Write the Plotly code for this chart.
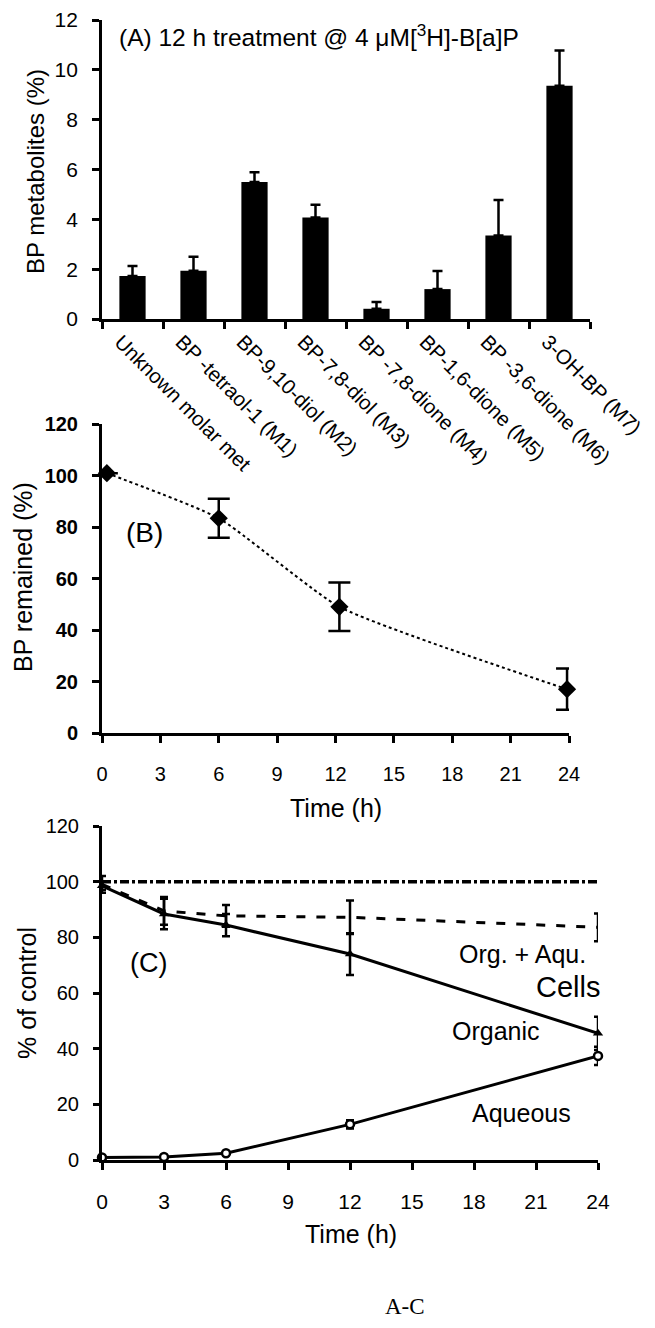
import plotly.graph_objects as go

# page body has an 8px default margin: place the paper inside it
OX, OY = 8, 8
W, H = 655 - 2 * OX, 1328 - 2 * OY

# ---------------- data ----------------
# Panel A
metabolites = ["Unknown molar met", "BP -tetraol-1 (M1)", "BP-9,10-diol (M2)", "BP-7,8-diol (M3)",
               "BP -7,8-dione (M4)", "BP-1,6-dione (M5)", "BP -3,6-dione (M6)", "3-OH-BP (M7)"]
metab_pct = [1.73, 1.94, 5.50, 4.07, 0.41, 1.20, 3.35, 9.36]
metab_err = [0.40, 0.56, 0.39, 0.52, 0.27, 0.73, 1.43, 1.42]

# Panel B
b_time = [0.25, 6, 12.2, 23.9]
b_remain = [100.9, 83.4, 49.0, 17.0]
b_err = [0, 7.6, 9.4, 8.0]

# Panel C
c_time = [0, 3, 6, 12, 24]
c_cells = [100, 100, 100, 100, 100]
c_orgaqu = [99.0, 89.5, 87.7, 87.2, 83.6]
c_orgaqu_err = [3.0, 5.0, 3.9, 6.0, 5.0]
c_organic = [98.5, 88.4, 84.4, 74.0, 45.5]
c_organic_err = [1.5, 5.5, 4.0, 7.5, 6.0]
c_aqueous = [0.9, 1.1, 2.4, 12.8, 37.4]
c_aqueous_err = [0.3, 0.3, 0.5, 1.5, 3.3]

FONT = "Liberation Sans, Arial, sans-serif"


def X(px):
    return (px - OX) / W


def Y(py):
    return 1 - (py - OY) / H


fig = go.Figure()

# ---- Panel A ----
fig.add_trace(go.Bar(
    x=metabolites, y=metab_pct, width=0.43, marker=dict(color="black", line=dict(width=0)),
    error_y=dict(type="data", symmetric=False, array=metab_err, arrayminus=[0] * len(metab_err),
                 color="black", thickness=2.5, width=5),
    xaxis="x", yaxis="y", showlegend=False))

# ---- Panel B ----
fig.add_trace(go.Scatter(
    x=b_time, y=b_remain, mode="lines+markers",
    line=dict(color="black", width=2, dash="dot", shape="spline", smoothing=0.5),
    marker=dict(symbol="diamond", size=14, color="black"),
    error_y=dict(type="data", array=b_err, color="black", thickness=2.5, width=11),
    xaxis="x2", yaxis="y2", showlegend=False, cliponaxis=False))

# ---- Panel C ----
fig.add_trace(go.Scatter(
    x=c_time, y=c_cells, mode="lines",
    line=dict(color="black", width=3.5, dash="9px,3px,3px,3px"),
    xaxis="x3", yaxis="y3", showlegend=False, cliponaxis=False))
fig.add_trace(go.Scatter(
    x=c_time, y=c_orgaqu, mode="lines",
    line=dict(color="black", width=3, dash="9px,11px"),
    error_y=dict(type="data", array=c_orgaqu_err, color="black", thickness=2.5, width=4),
    xaxis="x3", yaxis="y3", showlegend=False, cliponaxis=False))
fig.add_trace(go.Scatter(
    x=c_time, y=c_organic, mode="lines+markers",
    line=dict(color="black", width=3),
    marker=dict(symbol="triangle-up", size=9, color="black"),
    error_y=dict(type="data", array=c_organic_err, color="black", thickness=2.5, width=4),
    xaxis="x3", yaxis="y3", showlegend=False, cliponaxis=False))
fig.add_trace(go.Scatter(
    x=c_time, y=c_aqueous, mode="lines+markers",
    line=dict(color="black", width=3),
    marker=dict(symbol="circle", size=8, color="white", line=dict(color="black", width=2.5)),
    error_y=dict(type="data", array=c_aqueous_err, color="black", thickness=2.5, width=4),
    xaxis="x3", yaxis="y3", showlegend=False, cliponaxis=False))

axis_common = dict(showgrid=False, zeroline=False, showline=True, linecolor="black",
                   ticks="outside", tickcolor="black", mirror=False, automargin=False)

fig.update_layout(
    template="none",
    width=W, height=H, margin=dict(l=0, r=0, t=0, b=0, pad=0, autoexpand=False),
    paper_bgcolor="white", plot_bgcolor="white",
    font=dict(family=FONT, color="black"),
    bargap=0.57,
    # Panel A
    xaxis=dict(**axis_common, domain=[X(102), X(590)], anchor="y", linewidth=2.7,
               tickwidth=2.5, ticklen=7, tickson="boundaries", tickangle=45,
               tickfont=dict(size=20.5), range=[-0.5, 7.5], ticklabelstandoff=0,
               ticklabelshift=-12),
    yaxis=dict(**axis_common, domain=[Y(319), Y(20)], anchor="x", linewidth=2.7,
               tickwidth=2.5, ticklen=7, range=[0, 12], dtick=2,
               tickfont=dict(size=21), ticklabelstandoff=10),
    # Panel B
    xaxis2=dict(**axis_common, domain=[X(102), X(569)], anchor="y2", linewidth=3,
                tickwidth=3, ticklen=7, range=[0, 24], dtick=3,
                tickfont=dict(size=20), ticklabelstandoff=14),
    yaxis2=dict(**axis_common, domain=[Y(733), Y(424)], anchor="x2", linewidth=3,
                tickwidth=3, ticklen=7, range=[0, 120], dtick=20,
                tickfont=dict(size=20, weight="bold"), ticklabelstandoff=10),
    # Panel C
    xaxis3=dict(**axis_common, domain=[X(102), X(598)], anchor="y3", linewidth=3,
                tickwidth=2.5, ticklen=7, range=[0, 24], dtick=3,
                tickfont=dict(size=21), ticklabelstandoff=14),
    yaxis3=dict(**axis_common, domain=[Y(1160), Y(826)], anchor="x3", linewidth=3,
                tickwidth=2.5, ticklen=6, range=[0, 120], dtick=20,
                tickfont=dict(size=20), ticklabelstandoff=10),
)


def ann(text, px, py, size, xanchor="center", angle=0, family=FONT):
    fig.add_annotation(text=text, x=X(px), y=Y(py), xref="paper", yref="paper",
                       xanchor=xanchor, yanchor="middle", showarrow=False,
                       textangle=angle, font=dict(size=size, family=family, color="black"))


ann("(A) 12 h treatment @ 4 μM[<sup>3</sup>H]-B[a]P", 117, 35, 24.5, xanchor="left")
ann("BP metabolites (%)", 35, 172, 24, angle=-90)

ann("BP remained (%)", 23, 577, 25, angle=-90)
ann("(B)", 144, 532, 28)
ann("Time (h)", 336, 808, 25)

ann("% of control", 27, 993, 25, angle=-90)
ann("(C)", 148, 963, 27)
ann("Org. + Aqu.", 522, 954, 25)
ann("Cells", 568, 987, 29)
ann("Organic", 496, 1031, 25)
ann("Aqueous", 521, 1113, 25)
ann("Time (h)", 351, 1234, 25)
ann("A-C", 405, 1306, 23, family="Liberation Serif, Times New Roman, serif")

fig.write_html("out.html")
